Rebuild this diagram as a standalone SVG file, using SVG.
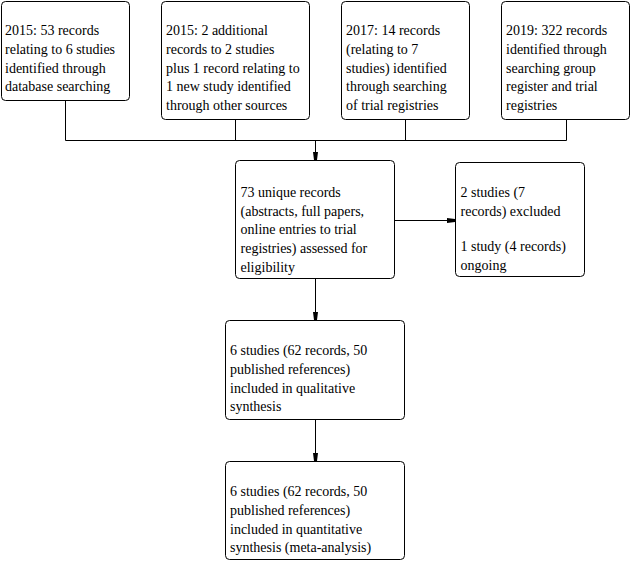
<svg xmlns="http://www.w3.org/2000/svg" width="631" height="562" viewBox="0 0 631 562">
<defs>
<marker id="ah" viewBox="0 0 8 6" refX="8" refY="3" markerWidth="8" markerHeight="6" markerUnits="userSpaceOnUse" orient="auto">
<path d="M0,0.5 L8,1.5 L8,4.5 L0,5.5 Z" fill="#000"/>
</marker>
<style>
.box{fill:#fff;stroke:#000;stroke-width:1}
.t{font-family:"Liberation Serif","Times New Roman",serif;font-size:14px;fill:#000}
.c{fill:none;stroke:#000;stroke-width:1}
</style>
</defs>
<rect width="631" height="562" fill="#fff"/>
<g id="connectors">
<path class="c" d="M65.5,100 V140.5 H566.5 V119 M235.5,119 V140.5 M405.5,119 V140.5"/>
<path class="c" d="M315.5,140.5 V160" marker-end="url(#ah)"/>
<path class="c" d="M395,220.5 H455" marker-end="url(#ah)"/>
<path class="c" d="M315.5,279 V320" marker-end="url(#ah)"/>
<path class="c" d="M315.5,420 V461" marker-end="url(#ah)"/>
</g>
<g id="n1">
<rect class="box" x="1.5" y="1.5" width="128" height="99" rx="4"/>
<text class="t" x="5" y="35">2015: 53 records</text>
<text class="t" x="5" y="54">relating to 6 studies</text>
<text class="t" x="5" y="72.5">identified through</text>
<text class="t" x="5" y="91">database searching</text>
</g>
<g id="n2">
<rect class="box" x="161.5" y="1.5" width="148" height="118" rx="4"/>
<text class="t" x="166" y="35">2015: 2 additional</text>
<text class="t" x="166" y="54">records to 2 studies</text>
<text class="t" x="166" y="72.5">plus 1 record relating to</text>
<text class="t" x="166" y="91">1 new study identified</text>
<text class="t" x="166" y="110">through other sources</text>
</g>
<g id="n3">
<rect class="box" x="341.5" y="1.5" width="128" height="118" rx="4"/>
<text class="t" x="346" y="35">2017: 14 records</text>
<text class="t" x="346" y="54">(relating to 7</text>
<text class="t" x="346" y="72.5">studies) identified</text>
<text class="t" x="346" y="91">through searching</text>
<text class="t" x="346" y="110">of trial registries</text>
</g>
<g id="n4">
<rect class="box" x="501.5" y="1.5" width="128" height="118" rx="4"/>
<text class="t" x="506" y="35">2019: 322 records</text>
<text class="t" x="506" y="54">identified through</text>
<text class="t" x="506" y="72.5">searching group</text>
<text class="t" x="506" y="91">register and trial</text>
<text class="t" x="506" y="110">registries</text>
</g>
<g id="n5">
<rect class="box" x="235.5" y="160.5" width="159" height="118" rx="4"/>
<text class="t" x="240.5" y="196.5">73 unique records</text>
<text class="t" x="240.5" y="215.5">(abstracts, full papers,</text>
<text class="t" x="240.5" y="234">online entries to trial</text>
<text class="t" x="240.5" y="253">registries) assessed for</text>
<text class="t" x="240.5" y="271.5">eligibility</text>
</g>
<g id="n6">
<rect class="box" x="455.5" y="162.5" width="129" height="114" rx="4"/>
<text class="t" x="460.5" y="197">2 studies (7</text>
<text class="t" x="460.5" y="216">records) excluded</text>
<text class="t" x="460.5" y="251">1 study (4 records)</text>
<text class="t" x="460.5" y="270">ongoing</text>
</g>
<g id="n7">
<rect class="box" x="225.5" y="320.5" width="179" height="99" rx="4"/>
<text class="t" x="230" y="355">6 studies (62 records, 50</text>
<text class="t" x="230" y="373.5">published references)</text>
<text class="t" x="230" y="392.5">included in qualitative</text>
<text class="t" x="230" y="411">synthesis</text>
</g>
<g id="n8">
<rect class="box" x="225.5" y="461.5" width="179" height="98" rx="4"/>
<text class="t" x="230" y="496">6 studies (62 records, 50</text>
<text class="t" x="230" y="514.5">published references)</text>
<text class="t" x="230" y="533.5">included in quantitative</text>
<text class="t" x="230" y="552">synthesis (meta-analysis)</text>
</g>
</svg>
